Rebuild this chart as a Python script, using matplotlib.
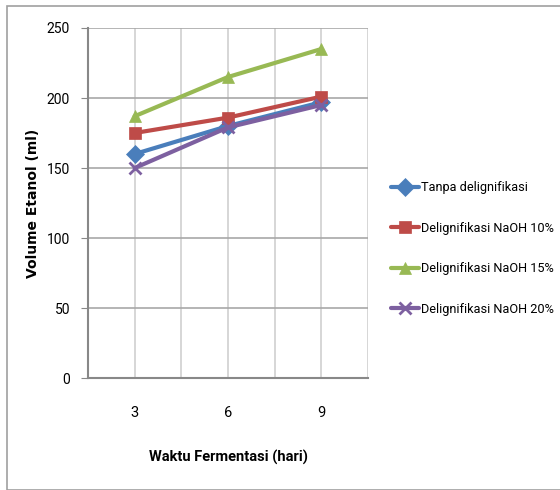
import matplotlib
matplotlib.use("Agg")
import matplotlib.pyplot as plt
from matplotlib.patches import Rectangle

days = [3, 6, 9]
tanpa = [160, 180, 197]
naoh10 = [175, 186, 201]
naoh15 = [187, 215, 235]
naoh20 = [150, 179, 195]
labels = ["Tanpa delignifikasi", "Delignifikasi NaOH 10%",
          "Delignifikasi NaOH 15%", "Delignifikasi NaOH 20%"]
colors = ["#4a7ebb", "#be4b48", "#98b954", "#7d60a0"]
markers = ["D", "s", "^", "x"]

plt.rcParams['font.family'] = ['Roboto', 'DejaVu Sans']

fig = plt.figure(figsize=(5.6, 4.9), dpi=100)
fig.patches.append(Rectangle((7/560, 0.0), 1.0, 1 - 6/490, transform=fig.transFigure,
                             fill=False, edgecolor="#a0a0a0", linewidth=1.2))
ax = fig.add_axes([88/560, 112/490, 280/560, 350/490])

series = [tanpa, naoh10, naoh15, naoh20]
for s, lab, c, m in zip(series, labels, colors, markers):
    ax.plot(days, s, color=c, marker=m, markersize=9, linewidth=3,
            markeredgewidth=2 if m == "x" else 0.5, markeredgecolor=c,
            label=lab, solid_capstyle='round')

ax.set_xlim(1.5, 10.5)
ax.set_ylim(0, 250)
ax.set_yticks(range(0, 251, 50))
ax.set_xticks(days)
for xv in [3, 4.5, 6, 7.5, 9, 10.5]:
    ax.axvline(xv, color="#d0d0d0", linewidth=1.2, zorder=0)
ax.grid(axis='y', which='major', color="#a8a8a8", linewidth=1.2, zorder=0)
ax.set_axisbelow(True)
for sp in ["top", "right"]:
    ax.spines[sp].set_visible(False)
for sp in ["left", "bottom"]:
    ax.spines[sp].set_color("#888888")
    ax.spines[sp].set_linewidth(1.5)
ax.tick_params(axis='y', which='major', length=5, color="#888888", labelsize=10, pad=8)
ax.tick_params(axis='x', which='both', length=0, labelsize=10.5, pad=20)

ax.set_ylabel("Volume Etanol (ml)", fontsize=10, fontweight='bold',
              family='DejaVu Sans', labelpad=5)
ax.set_xlabel("Waktu Fermentasi (hari)", fontsize=10.5, fontweight='bold', labelpad=22)

leg = ax.legend(loc='upper left', bbox_to_anchor=(1.065, 0.577), frameon=False,
                fontsize=9.2, handlelength=2.2, handletextpad=0.1,
                labelspacing=2.15, borderaxespad=0)

fig.savefig("out.png", dpi=100)
